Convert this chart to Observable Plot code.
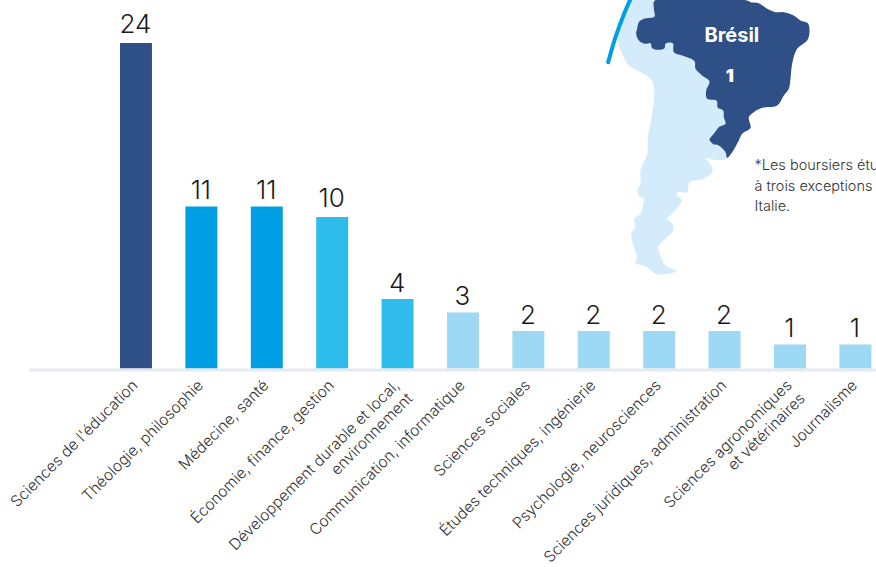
<!DOCTYPE html>
<html lang="fr">
<head>
<meta charset="utf-8">
<script src="https://cdn.jsdelivr.net/npm/d3@7"></script>
<script src="https://cdn.jsdelivr.net/npm/@observablehq/plot@0.6"></script>
<style>
html,body{margin:0;padding:0;background:#fff;width:876px;height:567px;overflow:hidden}
#wrap{position:relative;width:876px;height:567px;overflow:hidden}
#wrap svg{position:absolute;left:0;top:0;background:transparent;font-family:Inter,sans-serif}
</style>
</head>
<body>
<div id="wrap"></div>
<script>
const categories = [
  "Sciences de l'éducation",
  "Théologie, philosophie",
  "Médecine, santé",
  "Économie, finance, gestion",
  "Développement durable et local,\nenvironnement",
  "Communication, informatique",
  "Sciences sociales",
  "Études techniques, ingénierie",
  "Psychologie, neurosciences",
  "Sciences juridiques, administration",
  "Sciences agronomiques\net vétérinaires",
  "Journalisme"
];
const values = [24, 11, 11, 10, 4, 3, 2, 2, 2, 2, 1, 1];
const barColors = ["#2f4f87", "#009fe3", "#009fe3", "#2dbcec", "#2dbcec", "#9dd8f4", "#9dd8f4", "#9dd8f4", "#9dd8f4", "#9dd8f4", "#9dd8f4", "#9dd8f4"];
// The reference's bars are not proportional: its value axis is piecewise.
const axisValues = [0, 1, 2, 3, 4, 10, 11, 24];
const axisPixels = [368.5, 344.5, 331, 312.5, 299, 217, 206.5, 43];

// Map outlines, in units of a 858×870 tracing of the map area.
const continentOutline = [[120,0],[100,45],[80,110],[105,180],[115,195],[150,215],[180,235],[190,260],[190,300],[180,370],[172,410],[170,460],[150,510],[150,550],[140,570],[150,590],[158,590],[150,640],[130,655],[135,680],[122,695],[130,740],[140,770],[135,785],[170,800],[200,822],[230,820],[258,812],[225,795],[212,770],[204,740],[225,715],[248,690],[245,670],[230,655],[245,640],[265,615],[275,600],[260,585],[260,575],[290,575],[297,545],[340,535],[365,515],[365,500],[345,472],[370,478],[405,475],[420,400],[400,300],[300,100],[240,0]];
const brazilOutline = [[193,0],[190,25],[192,48],[160,55],[145,65],[140,85],[137,100],[145,120],[165,130],[180,128],[185,143],[205,148],[222,143],[225,130],[247,128],[250,155],[275,165],[312,182],[315,205],[335,225],[357,243],[347,270],[350,295],[378,300],[382,322],[398,330],[400,350],[405,370],[385,380],[370,400],[357,418],[370,432],[385,435],[405,455],[410,472],[425,455],[445,420],[455,400],[480,382],[475,350],[490,335],[515,322],[560,315],[580,285],[595,265],[600,235],[605,190],[620,145],[650,120],[657,95],[652,68],[630,60],[610,45],[580,35],[555,35],[530,25],[505,8],[480,5],[470,0]];
const arcPath = [[125,-15],[100,42],[75,110],[53,185]];
const mapLabel = "Brésil";
const mapValue = "1";
const footnote = "*Les boursiers étu\nà trois exceptions\nItalie.";

const rows = categories.map((c, i) => ({category: c, value: values[i], color: barColors[i]}));
const valueLabel = {x: "category", y: "value", text: d => String(d.value), fontSize: 26, fontWeight: 300, fill: "#1a1a1a", lineAnchor: "bottom", dx: -1};

const chart = Plot.plot({
  width: 876, height: 567,
  marginLeft: 29, marginRight: 0, marginTop: 0, marginBottom: 0,
  x: {type: "band", domain: categories, range: [86.55, 904.8], padding: 0.5115, round: false, axis: null},
  y: {type: "linear", domain: axisValues, range: axisPixels, clamp: false, axis: null},
  marks: [
    Plot.barY(rows, {x: "category", y: "value", fill: "color"}),
    Plot.ruleY([0], {stroke: "#e6e9ed", strokeWidth: 3, dy: 1}),
    Plot.text(rows.filter(d => d.value === 24 || d.value === 10), {...valueLabel, dy: -11}),
    Plot.text(rows.filter(d => d.value !== 24 && d.value !== 10), {...valueLabel, dy: -8}),
    Plot.text(rows, {x: "category", y: () => 0, text: "category", rotate: -45, textAnchor: "end", lineAnchor: "top", fontSize: 15.5, fontWeight: 300, fill: "#333", dx: -7, dy: 8, lineHeight: 1.2})
  ]
});

const map = Plot.plot({
  width: 876, height: 567, margin: 0,
  x: {type: "linear", domain: [0, 858], range: [590, 876], axis: null},
  y: {type: "linear", domain: [0, 870], range: [0, 290], axis: null},
  marks: [
    Plot.line(continentOutline, {fill: "#d3ebfb", stroke: null, clip: "frame", curve: "catmull-rom-closed"}),
    Plot.line(brazilOutline, {fill: "#2f4f87", stroke: null, clip: "frame", curve: "catmull-rom-closed"}),
    Plot.line(arcPath, {stroke: "#009fe3", strokeWidth: 4, strokeLinecap: "round", curve: "catmull-rom"}),
    Plot.text([mapLabel], {x: () => 424, y: () => 105, text: d => d, fill: "#fff", fontSize: 20, fontWeight: 700}),
    Plot.text([mapValue], {x: () => 418, y: () => 228, text: d => d, fill: "#fff", fontSize: 18, fontWeight: 900}),
    Plot.text([footnote], {x: () => 492, y: () => 465, text: d => d, textAnchor: "start", lineAnchor: "top", fill: "#333", fontSize: 14.5, fontWeight: 300, lineHeight: 1.42})
  ]
});

document.getElementById("wrap").append(chart, map);
</script>
</body>
</html>
